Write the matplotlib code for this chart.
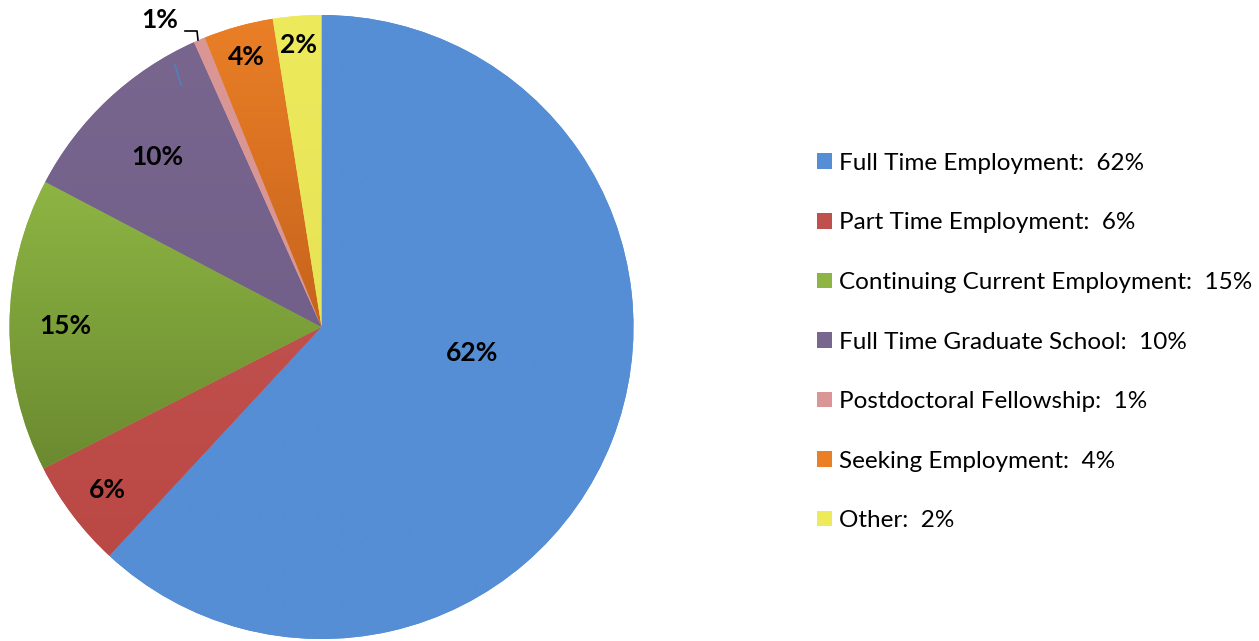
import matplotlib
matplotlib.use("Agg")
import matplotlib.pyplot as plt
import numpy as np
from matplotlib.patches import Rectangle
from matplotlib.colors import LinearSegmentedColormap

categories = ["Full Time Employment", "Part Time Employment", "Continuing Current Employment",
              "Full Time Graduate School", "Postdoctoral Fellowship", "Seeking Employment", "Other"]
values = [61.9, 5.6, 15.2, 10.6, 0.6, 3.6, 2.5]
label_texts = ["62%", "6%", "15%", "10%", "1%", "4%", "2%"]

colors_top = ["#558ED5", "#C0504D", "#8DB543", "#78668F", "#D99694", "#EA7F26", "#EDEA5C"]
colors_bot = ["#558ED5", "#BA4845", "#6B8A30", "#72608A", "#D99694", "#C6631C", "#E6E356"]

W, H = 1259, 641
fig = plt.figure(figsize=(W / 100, H / 100), dpi=100)
ax = fig.add_axes([0, 0, 1, 1])

cx, cy, r = 321.5, H - 327, 312
wedges, _ = ax.pie(values, startangle=90, counterclock=False, colors=colors_top,
                   center=(cx, cy), radius=r, frame=True,
                   wedgeprops=dict(linewidth=0))
ax.set_xlim(0, W)
ax.set_ylim(0, H)
ax.set_aspect("equal")
ax.axis("off")

# vertical gradient inside each wedge
for w, ct, cb in zip(wedges, colors_top, colors_bot):
    cmap = LinearSegmentedColormap.from_list("g", [cb, ct])
    grad = np.linspace(0, 1, 256).reshape(-1, 1)
    path = w.get_path()
    verts = w.get_patch_transform().transform(path.vertices)
    y0, y1 = verts[:, 1].min(), verts[:, 1].max()
    x0, x1 = verts[:, 0].min(), verts[:, 0].max()
    im = ax.imshow(grad, cmap=cmap, extent=(x0 - 1, x1 + 1, y0 - 1, y1 + 1),
                   origin="lower", aspect="auto", zorder=2, interpolation="bilinear")
    im.set_clip_path(w)
    w.set_zorder(1)
ax.set_xlim(0, W)
ax.set_ylim(0, H)

# data labels (Excel "best fit" positions, pixel coordinates from top-left)
label_pos = [(472, 353), (107, 490), (65, 326), (157, 157), (160, 20), (246, 57), (299, 45)]
for txt, (px, py) in zip(label_texts, label_pos):
    ax.text(px, H - py, txt, ha="center", va="center", fontsize=19, fontweight="bold",
            family="Lato", color="black", zorder=5)

# leader line for 1%
ax.plot([185, 197, 198], [H - 31, H - 31, H - 40], color="black", lw=1.2, zorder=5)
# small stray line inside purple wedge
ax.plot([175, 181], [H - 65, H - 85], color="#4F81BD", lw=1.2, zorder=5)

# legend
handles = [Rectangle((0, 0), 1, 1, facecolor=c, edgecolor="none") for c in colors_top]
legend_labels = [f"{c}:  {t}" for c, t in zip(categories, label_texts)]
leg = ax.legend(handles, legend_labels, loc="center left",
                bbox_to_anchor=(807 / W, 1 - 342 / H), frameon=False,
                prop=dict(family="Lato", size=17.5), handlelength=0.62, handleheight=0.62,
                handletextpad=0.3, labelspacing=1.585, borderaxespad=0)

fig.savefig("out.png", dpi=100)
